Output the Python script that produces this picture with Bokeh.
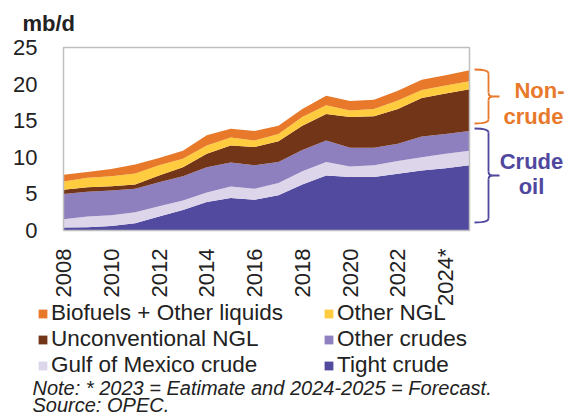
import math
from bokeh.plotting import figure
from bokeh.models import (ColumnDataSource, Range1d, FixedTicker, Legend,
                          LegendItem)
from bokeh.embed import file_html
from bokeh.resources import INLINE
from bokeh.core.properties import value

# ---------------- data (mb/d) ----------------
years = list(range(2008, 2026))
tight_crude = [0.4, 0.45, 0.6, 1.0, 1.9, 2.8, 3.9, 4.45, 4.2, 4.8, 6.3, 7.5, 7.3, 7.3, 7.75, 8.2, 8.5, 8.9]
gulf_of_mexico = [1.15, 1.45, 1.5, 1.5, 1.4, 1.3, 1.3, 1.55, 1.5, 1.7, 1.8, 1.85, 1.45, 1.6, 1.75, 1.8, 2.0, 2.0]
other_crudes = [3.45, 3.4, 3.35, 3.2, 3.3, 3.3, 3.45, 3.3, 3.2, 2.85, 2.9, 2.95, 2.55, 2.4, 2.35, 2.85, 2.7, 2.7]
unconv_ngl = [0.55, 0.6, 0.6, 0.6, 0.9, 1.25, 1.85, 2.3, 2.5, 2.85, 3.3, 3.6, 4.2, 4.3, 4.75, 5.25, 5.5, 5.7]
other_ngl = [1.15, 1.3, 1.35, 1.5, 1.4, 1.15, 1.1, 1.1, 0.9, 1.0, 1.2, 1.2, 0.9, 1.0, 1.15, 1.1, 1.1, 1.1]
biofuels = [0.9, 0.8, 1.0, 1.2, 1.0, 1.1, 1.4, 1.2, 1.3, 1.1, 1.1, 1.3, 1.3, 1.25, 1.35, 1.4, 1.4, 1.5]

series_keys = ["tight", "gom", "oc", "ungl", "ongl", "bio"]
series_labels = ["Tight crude", "Gulf of Mexico crude", "Other crudes",
                 "Unconventional NGL", "Other NGL", "Biofuels + Other liquids"]
series_colors = ["#514A9F", "#DDD6EB", "#8E7FBE", "#733517", "#FFCC40", "#E8792B"]

y_ticks = [0, 5, 10, 15, 20, 25]
x_ticks = years[::2]

unit_text = "mb/d"
note_text = "Note: * 2023 = Eatimate and 2024-2025 = Forecast."
source_text = "Source: OPEC."

FONT = "Liberation Sans"
ORANGE = "#E8792B"
PURPLE = "#4F479E"
TXT = "#222222"
GRID = "#BFBFBF"

src = ColumnDataSource(dict(year=years, tight=tight_crude, gom=gulf_of_mexico,
                            oc=other_crudes, ungl=unconv_ngl, ongl=other_ngl,
                            bio=biofuels))

# ---------------- layout geometry (pixels) ----------------
W, H = 572, 417
X_LEFT, X_RIGHT = 63, 469      # plot box left/right (first/last year)
Y_TOP, Y_BOT = 47, 230         # plot box top (25) / bottom (0)
TXT_SHIFT = 7                  # baseline correction for text glyphs
ppy = (X_RIGHT - X_LEFT) / (years[-1] - years[0])
ppu = (Y_BOT - Y_TOP) / y_ticks[-1]

def dxp(px):  # page x -> data x
    return years[0] + (px - X_LEFT) / ppy

def dyp(py):  # page y -> data y
    return (Y_BOT - py) / ppu

def typ(py):  # text baseline page y -> data y
    return dyp(py - TXT_SHIFT)

p = figure(width=W, height=H, output_backend="svg", toolbar_location=None,
           x_range=Range1d(dxp(0), dxp(W)), y_range=Range1d(dyp(H), dyp(0)),
           min_border=0)
p.outline_line_color = None
p.xgrid.grid_line_color = None
p.ygrid.grid_line_color = None

r = p.varea_stack(series_keys, x="year", color=series_colors, source=src)

# plot box
p.line(x=[years[0], years[-1], years[-1], years[0], years[0]],
       y=[0, 0, y_ticks[-1], y_ticks[-1], 0], line_color=GRID, line_width=1.5)

for ax in (p.xaxis[0], p.yaxis[0]):
    ax.major_tick_line_color = None
    ax.minor_tick_line_color = None
    ax.axis_line_color = None
    ax.major_label_text_font = FONT
    ax.major_label_text_font_size = "22px"
    ax.major_label_text_color = TXT

p.xaxis.fixed_location = 0
p.xaxis.ticker = FixedTicker(ticks=x_ticks)
p.xaxis.major_label_overrides = {2024: "2024*"}
p.xaxis.major_label_orientation = math.pi / 2
p.xaxis.major_label_standoff = 12
p.yaxis.fixed_location = years[0]
p.yaxis.ticker = FixedTicker(ticks=y_ticks)
p.yaxis.major_label_standoff = 20

# unit label
p.text(x=[dxp(22)], y=[typ(30)], text=[unit_text], text_align="left",
       text_baseline="alphabetic", text_font=value(FONT), text_font_style="bold",
       text_font_size="22px", text_color=TXT)

# braces
dx = 1 / ppy
dy = 1 / ppu
def brace(top, bot, color):
    mid = (top + bot) / 2
    x0 = years[-1] + 5 * dx
    xs = years[-1] + 19 * dx
    xt = years[-1] + 30 * dx
    rx, ry = 4 * dx, 4 * dy
    p.quadratic(x0=[x0, xs, xs, xs], y0=[top, mid + ry, mid - ry, bot + ry],
                x1=[xs, xs + rx, xs + rx, x0], y1=[top - ry, mid, mid, bot],
                cx=[xs, xs, xs, xs], cy=[top, mid, mid, bot],
                line_color=color, line_width=1.8)
    p.segment(x0=[xs, xs, xs + rx], y0=[top - ry, mid - ry, mid],
              x1=[xs, xs, xt], y1=[mid + ry, bot + ry, mid],
              line_color=color, line_width=1.8)

brace(dyp(69), dyp(123), ORANGE)
brace(dyp(128), dyp(222), PURPLE)

p.text(x=[dxp(539), dxp(533)], y=[typ(97), typ(123)], text=["Non-", "crude"],
       text_align="center", text_baseline="alphabetic", text_font=value(FONT),
       text_font_style="bold", text_font_size="22px", text_color=ORANGE)
p.text(x=[dxp(531), dxp(531)], y=[typ(168), typ(193)], text=["Crude", "oil"],
       text_align="center", text_baseline="alphabetic", text_font=value(FONT),
       text_font_style="bold", text_font_size="22px", text_color=PURPLE)

# notes
p.text(x=[dxp(32), dxp(32)], y=[typ(394), typ(411)], text=[note_text, source_text],
       text_align="left", text_baseline="alphabetic", text_font=value(FONT),
       text_font_style="italic", text_font_size="20px", text_color=TXT)

# legend (2 columns x 3 rows)
order = [5, 3, 1, 4, 2, 0]
items = [LegendItem(label=series_labels[i], renderers=[r[i]]) for i in order]
legend = Legend(items=items, location=(37, 39), orientation="vertical", ncols=2,
                glyph_width=11, glyph_height=11, label_standoff=3,
                label_width=272, label_height=20, spacing=-3, padding=0, margin=0,
                border_line_color=None, background_fill_alpha=0,
                label_text_font=FONT, label_text_font_size="22.5px",
                label_text_color=TXT)
p.add_layout(legend)

open("out.html", "w").write(file_html(p, INLINE))
